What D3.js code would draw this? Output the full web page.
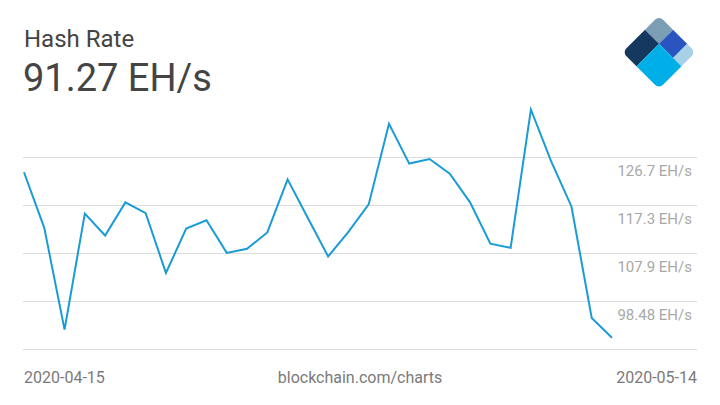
<!DOCTYPE html>
<html lang="en">
    <head>
        <meta charset="utf-8">
        <title>Hash Rate</title>
        <script type="text/javascript" src="https://cdn.jsdelivr.net/npm/d3@7"></script>
        <style type="text/css">
            body { margin: 0; background: #fff; }
            svg text { font-family: Roboto, sans-serif; }
            .grid line { stroke: #dcdcdc; stroke-width: 1; shape-rendering: crispEdges; }
            .tickLabel { fill: #a8a8a8; font-size: 15px; }
            .footer { fill: #7a7a7a; font-size: 16px; }
        </style>
    </head>
    <body>
    <script type="text/javascript">

        // Data
        var dates = ["2020-04-15","2020-04-16","2020-04-17","2020-04-18","2020-04-19","2020-04-20",
                     "2020-04-21","2020-04-22","2020-04-23","2020-04-24","2020-04-25","2020-04-26",
                     "2020-04-27","2020-04-28","2020-04-29","2020-04-30","2020-05-01","2020-05-02",
                     "2020-05-03","2020-05-04","2020-05-05","2020-05-06","2020-05-07","2020-05-08",
                     "2020-05-09","2020-05-10","2020-05-11","2020-05-12","2020-05-13","2020-05-14"];
        var hashRate = [123.7, 112.8, 92.85, 115.6, 111.3, 117.8,
                        115.7, 103.97, 112.65, 114.3, 107.9, 108.7,
                        111.9, 122.3, 114.75, 107.2, 112.0, 117.4,
                        133.2, 125.4, 126.3, 123.4, 117.8, 109.7,
                        108.9, 136.0, 125.85, 117.0, 95.15, 91.27];
        var tickValues = [98.48, 107.9, 117.3, 126.7];
        var baseValue = 89.06;

        // Svg parameters
        var w = 720;
        var h = 405;

        var svg = d3.select("body").append("svg")
            .attr("width", w)
            .attr("height", h);

        var parseDate = d3.timeParse("%Y-%m-%d");
        var data = dates.map(function(d, i) { return {date: parseDate(d), value: hashRate[i]}; });

        // Scales
        var scaleX = d3.scaleTime()
            .domain(d3.extent(data, function(d) { return d.date; }))
            .range([24, 612]);
        var scaleY = d3.scaleLinear()
            .domain([baseValue, 136.1])
            .range([349, 109]);

        // Title
        svg.append("text")
            .attr("x", 24)
            .attr("y", 47)
            .attr("fill", "#444")
            .style("font-size", "24px")
            .text("Hash Rate");

        svg.append("text")
            .attr("x", 23)
            .attr("y", 91)
            .attr("fill", "#444")
            .style("font-size", "38px")
            .text(d3.format(".2f")(hashRate[hashRate.length - 1]) + " EH/s");

        // Gridlines (incl. baseline)
        var grid = svg.append("g").attr("class", "grid");
        grid.selectAll("line")
            .data([baseValue].concat(tickValues))
            .enter().append("line")
            .attr("x1", 23)
            .attr("x2", 697)
            .attr("y1", function(d) { return Math.round(scaleY(d)) + 0.5; })
            .attr("y2", function(d) { return Math.round(scaleY(d)) + 0.5; });

        // Tick labels sit under their gridline
        svg.selectAll(".tickLabel")
            .data(tickValues)
            .enter().append("text")
            .attr("class", "tickLabel")
            .attr("x", 692)
            .attr("y", function(d) { return scaleY(d) + 19; })
            .attr("text-anchor", "end")
            .text(function(d) { return d + " EH/s"; });

        // Line
        var line = d3.line()
            .x(function(d) { return scaleX(d.date); })
            .y(function(d) { return scaleY(d.value); });

        svg.append("path")
            .datum(data)
            .attr("d", line)
            .attr("fill", "none")
            .attr("stroke", "#1b9bd6")
            .attr("stroke-width", 2)
            .attr("stroke-linejoin", "miter");

        // Footer
        svg.append("text")
            .attr("class", "footer")
            .attr("x", 24)
            .attr("y", 383)
            .text(dates[0]);
        svg.append("text")
            .attr("class", "footer")
            .attr("x", 360)
            .attr("y", 383)
            .attr("text-anchor", "middle")
            .text("blockchain.com/charts");
        svg.append("text")
            .attr("class", "footer")
            .attr("x", 697)
            .attr("y", 383)
            .attr("text-anchor", "end")
            .text(dates[dates.length - 1]);

        // Logo (rotated square split into blocks)
        var side = 52;
        var logo = svg.append("g")
            .attr("transform", "translate(659,15.5) rotate(45)");
        logo.append("clipPath")
            .attr("id", "logoClip")
            .append("rect")
            .attr("width", side)
            .attr("height", side)
            .attr("rx", 6);
        var blocks = [
            {x: 0,  y: 0,  w: 20, h: 20, c: "#7b9eb5"},
            {x: 0,  y: 20, w: 20, h: 32, c: "#14385f"},
            {x: 20, y: 0,  w: 20, h: 20, c: "#2a55c0"},
            {x: 40, y: 0,  w: 12, h: 20, c: "#a8d0e6"},
            {x: 20, y: 20, w: 32, h: 32, c: "#00aee8"}
        ];
        logo.append("g")
            .attr("clip-path", "url(#logoClip)")
            .selectAll("rect")
            .data(blocks)
            .enter().append("rect")
            .attr("x", function(d) { return d.x; })
            .attr("y", function(d) { return d.y; })
            .attr("width", function(d) { return d.w; })
            .attr("height", function(d) { return d.h; })
            .attr("fill", function(d) { return d.c; });

    </script>
    </body>
</html>
